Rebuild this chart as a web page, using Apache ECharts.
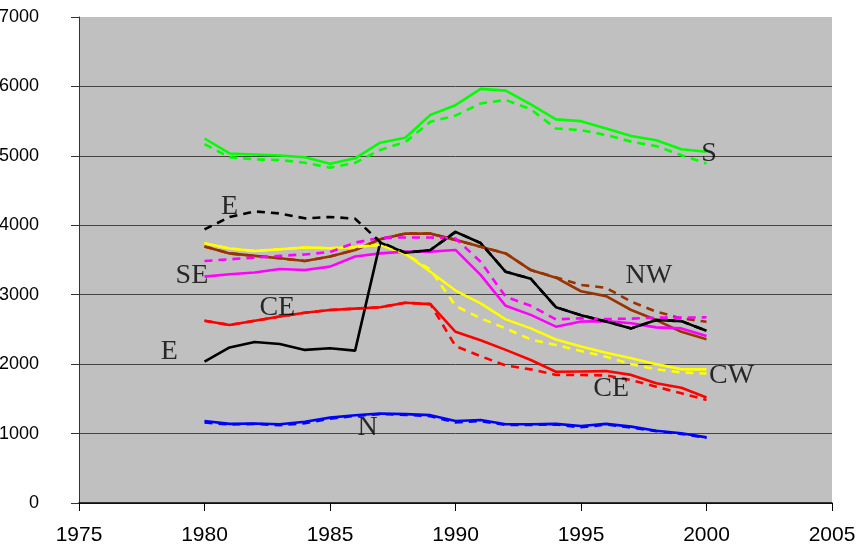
<!DOCTYPE html>
<html>
<head>
<meta charset="utf-8">
<title>Regional series 1980-2000</title>
<script src="https://cdn.jsdelivr.net/npm/echarts@6/dist/echarts.min.js"></script>
<style>
  html, body { margin: 0; padding: 0; background: #fff; }
  #main { width: 856px; height: 551px; }
</style>
</head>
<body>
<div id="main"></div>
<script>
// years on the x axis
const years = [1980, 1981, 1982, 1983, 1984, 1985, 1986, 1987, 1988, 1989, 1990,
  1991, 1992, 1993, 1994, 1995, 1996, 1997, 1998, 1999, 2000];

// solid = first series, dashed = second series of each region
const sSolid = [5250, 5035, 5020, 5005, 4980, 4885, 4965, 5190, 5260, 5590, 5730,
  5965, 5940, 5740, 5525, 5500, 5395, 5285, 5225, 5095, 5060];
const sDashed = [5170, 4980, 4950, 4940, 4900, 4830, 4900, 5085, 5200, 5490, 5580,
  5755, 5805, 5670, 5395, 5370, 5300, 5205, 5140, 5010, 4890];

const eSolid = [2035, 2240, 2320, 2290, 2205, 2230, 2195, 3750, 3605, 3645, 3905,
  3745, 3330, 3230, 2820, 2705, 2615, 2515, 2635, 2620, 2480];
const eDashed = [3940, 4120, 4200, 4170, 4100, 4120, 4095, 3760, 3605, 3645, 3905,
  3745, 3330, 3230, 2820, 2705, 2615, 2515, 2635, 2620, 2480];

const seSolid = [3260, 3295, 3320, 3370, 3355, 3405, 3550, 3595, 3620, 3620, 3645,
  3285, 2840, 2710, 2540, 2615, 2620, 2590, 2530, 2515, 2405];
const seDashed = [3485, 3510, 3535, 3560, 3580, 3615, 3750, 3820, 3825, 3825, 3810,
  3475, 2970, 2840, 2645, 2660, 2650, 2655, 2670, 2670, 2675];

const nwSolid = [3695, 3595, 3560, 3525, 3485, 3550, 3645, 3800, 3880, 3880, 3790,
  3690, 3595, 3355, 3245, 3050, 2980, 2780, 2635, 2465, 2360];
const nwDashed = [3695, 3595, 3560, 3525, 3485, 3550, 3645, 3800, 3880, 3880, 3790,
  3690, 3595, 3355, 3250, 3140, 3100, 2900, 2755, 2660, 2610];

const ceSolid = [2625, 2565, 2625, 2685, 2740, 2780, 2800, 2820, 2885, 2865, 2465,
  2345, 2205, 2060, 1890, 1895, 1900, 1845, 1725, 1660, 1520];
const ceDashed = [2625, 2565, 2625, 2685, 2740, 2780, 2800, 2820, 2885, 2865, 2260,
  2115, 1980, 1925, 1845, 1843, 1838, 1770, 1675, 1580, 1485];

const cwSolid = [3740, 3665, 3630, 3655, 3680, 3670, 3685, 3720, 3590, 3330, 3060,
  2875, 2645, 2515, 2355, 2255, 2165, 2085, 2000, 1925, 1925];
const cwDashed = [3740, 3665, 3630, 3655, 3680, 3670, 3685, 3720, 3590, 3360, 2840,
  2660, 2515, 2355, 2275, 2190, 2105, 2000, 1925, 1880, 1865];

const nSolid = [1180, 1140, 1145, 1135, 1170, 1230, 1265, 1290, 1280, 1265, 1180,
  1195, 1135, 1135, 1140, 1110, 1140, 1100, 1040, 1005, 945];
const nDashed = [1160, 1130, 1140, 1120, 1150, 1215, 1255, 1280, 1270, 1250, 1160,
  1180, 1125, 1125, 1130, 1090, 1130, 1085, 1035, 995, 940];

// region names written inside the plot, anchored in data units
const labelNames = ["S", "E", "SE", "CE", "E", "NW", "CW", "CE", "N"];
const labelYears = [2000.1, 1981.0, 1979.5, 1982.9, 1978.6, 1997.7, 2001.0, 1996.2, 1986.5];
const labelValues = [5030, 4265, 3270, 2820, 2175, 3270, 1830, 1640, 1080];

document.addEventListener("DOMContentLoaded", function () {
  var chartDom = document.getElementById("main");
  var myChart = echarts.init(chartDom, null, { renderer: "canvas" });

  function pairs(values) {
    return values.map(function (v, i) { return [years[i], v]; });
  }

  function line(name, values, color, dashed) {
    return {
      name: name,
      type: "line",
      data: pairs(values),
      symbol: "none",
      silent: true,
      animation: false,
      lineStyle: {
        color: color,
        width: 2.6,
        type: dashed ? [8, 6] : "solid"
      },
      z: dashed ? 3 : 2
    };
  }

  var series = [
    line("S", sSolid, "#00ff00", false),
    line("S (2)", sDashed, "#00ff00", true),
    line("NW", nwSolid, "#993300", false),
    line("NW (2)", nwDashed, "#993300", true),
    line("CW", cwSolid, "#ffff00", false),
    line("CW (2)", cwDashed, "#ffff00", true),
    line("SE", seSolid, "#ff00ff", false),
    line("SE (2)", seDashed, "#ff00ff", true),
    line("CE", ceSolid, "#ff0000", false),
    line("CE (2)", ceDashed, "#ff0000", true),
    line("E", eSolid, "#000000", false),
    line("E (2)", eDashed, "#000000", true),
    line("N", nSolid, "#0000ff", false),
    line("N (2)", nDashed, "#0000ff", true),
    {
      name: "labels",
      type: "scatter",
      symbolSize: 0,
      silent: true,
      animation: false,
      z: 10,
      data: labelNames.map(function (t, i) {
        return { value: [labelYears[i], labelValues[i]], name: t };
      }),
      label: {
        show: true,
        position: "inside",
        formatter: "{b}",
        color: "#000",
        fontFamily: "Liberation Serif",
        fontSize: 28
      }
    }
  ];

  // plain numbers, no thousands separator
  function plain(v) { return String(v); }

  var option = {
    backgroundColor: "#ffffff",
    grid: {
      left: 79,
      right: 24,
      top: 17,
      bottom: 48,
      outerBoundsMode: "none",
      containLabel: false,
      show: true,
      backgroundColor: "#c0c0c0",
      borderWidth: 0
    },
    xAxis: {
      type: "value",
      min: 1975,
      max: 2005,
      interval: 5,
      axisLine: { show: true, onZero: false, lineStyle: { color: "#000", width: 1.5 } },
      axisTick: { show: true, length: 8, lineStyle: { color: "#000" } },
      axisLabel: {
        margin: 22,
        color: "#000",
        fontFamily: "Liberation Sans",
        fontSize: 21,
        formatter: plain,
        showMinLabel: true,
        showMaxLabel: true,
        hideOverlap: false
      },
      splitLine: { show: false }
    },
    yAxis: {
      type: "value",
      min: 0,
      max: 7000,
      interval: 1000,
      axisLine: { show: true, lineStyle: { color: "#333", width: 1 } },
      axisTick: { show: true, length: 8, lineStyle: { color: "#333" } },
      axisLabel: {
        margin: 40,
        color: "#000",
        fontFamily: "Liberation Sans",
        fontSize: 18,
        formatter: plain
      },
      splitLine: {
        show: true,
        showMaxLine: false,
        lineStyle: { color: "#444", width: 1 }
      }
    },
    series: series
  };

  myChart.setOption(option, true);
});
</script>
</body>
</html>
